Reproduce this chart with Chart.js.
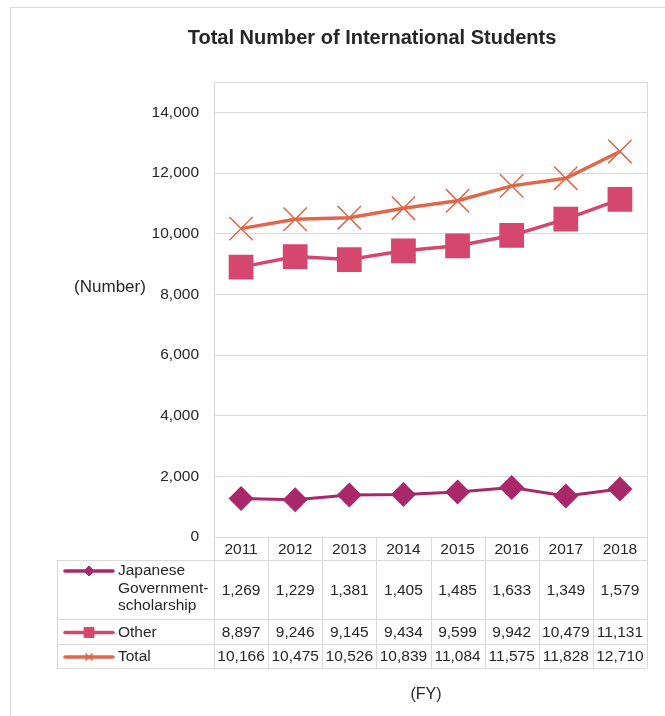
<!DOCTYPE html>
<html>
<head>
<meta charset="utf-8">
<script src="https://cdn.jsdelivr.net/npm/chart.js@4.4.1/dist/chart.umd.min.js"></script>
<style>
  html, body { margin: 0; padding: 0; background: #fff; }
  canvas { display: block; }
</style>
</head>
<body>
<canvas id="studentsChart" width="665" height="716"></canvas>
<script>
const YEARS = ['2011', '2012', '2013', '2014', '2015', '2016', '2017', '2018'];
const JGS_VALUES = [1269, 1229, 1381, 1405, 1485, 1633, 1349, 1579];
const OTHER_VALUES = [8897, 9246, 9145, 9434, 9599, 9942, 10479, 11131];
const TOTAL_VALUES = [10166, 10475, 10526, 10839, 11084, 11575, 11828, 12710];
const Y_TICKS = [0, 2000, 4000, 6000, 8000, 10000, 12000, 14000];
const SERIES_LABELS = [['Japanese', 'Government-', 'scholarship'], ['Other'], ['Total']];

const COLORS = {
    jgs:   '#A8286A',
    other: '#D6476F',
    total: '#E0674A',
    grid:  '#D9D9D9',
    text:  '#262626'
};
const FONT = '"Liberation Sans", Arial, sans-serif';

const fmt = v => v.toLocaleString('en-US');

// Frame, title, axis label and the data table under the plot
const decorPlugin = {
    id: 'decor',
    beforeDraw(chart) {
        const { ctx } = chart;
        ctx.save();
        ctx.strokeStyle = COLORS.grid;
        ctx.lineWidth = 1;
        ctx.beginPath();
        ctx.moveTo(10.5, 716);
        ctx.lineTo(10.5, 7.5);
        ctx.lineTo(665, 7.5);
        ctx.stroke();
        ctx.restore();
    },
    beforeDatasetsDraw(chart) {
        const { ctx, chartArea: a } = chart;
        ctx.save();
        ctx.strokeStyle = COLORS.grid;
        ctx.lineWidth = 1;
        ctx.strokeRect(Math.round(a.left) + 0.5, Math.round(a.top) + 0.5,
                       Math.round(a.right - a.left), Math.round(a.bottom - a.top));
        ctx.restore();
    },
    afterDraw(chart) {
        const { ctx, chartArea: a, scales: { x } } = chart;
        ctx.save();
        ctx.fillStyle = COLORS.text;

        ctx.font = `bold 20px ${FONT}`;
        ctx.textAlign = 'center';
        ctx.textBaseline = 'middle';
        ctx.fillText('Total Number of International Students', 372, 38);

        ctx.font = `17px ${FONT}`;
        ctx.fillText('(Number)', 110, 287);
        ctx.font = `16px ${FONT}`;
        ctx.fillText('(FY)', 426, 695);

        // table
        const colW = (a.right - a.left) / YEARS.length;
        const rows = [a.bottom, 560, 619, 644, 668];
        const tableLeft = 57;
        ctx.strokeStyle = COLORS.grid;
        ctx.lineWidth = 1;
        ctx.beginPath();
        for (let i = 0; i <= YEARS.length; i++) {
            const cx = Math.round(a.left + i * colW) + 0.5;
            ctx.moveTo(cx, a.bottom);
            ctx.lineTo(cx, rows[4]);
        }
        ctx.moveTo(tableLeft + 0.5, rows[1]);
        ctx.lineTo(tableLeft + 0.5, rows[4]);
        for (let r = 1; r < rows.length; r++) {
            ctx.moveTo(tableLeft, rows[r] + 0.5);
            ctx.lineTo(a.right, rows[r] + 0.5);
        }
        ctx.stroke();

        ctx.font = `15.5px ${FONT}`;
        ctx.fillStyle = COLORS.text;
        YEARS.forEach((y, i) => {
            ctx.fillText(y, x.getPixelForValue(i), (rows[0] + rows[1]) / 2 + 1);
        });

        chart.data.datasets.forEach((ds, d) => {
            const cy = (rows[d + 1] + rows[d + 2]) / 2 + 1;
            ctx.fillStyle = COLORS.text;
            ctx.textAlign = 'center';
            ds.data.forEach((v, i) => {
                ctx.fillText(fmt(v), x.getPixelForValue(i), cy);
            });
            // legend key
            const ly = d === 0 ? 571 : cy;
            ctx.strokeStyle = ds.borderColor;
            ctx.lineWidth = 3.5;
            ctx.lineCap = 'round';
            ctx.beginPath();
            ctx.moveTo(65, ly);
            ctx.lineTo(113, ly);
            ctx.stroke();
            ctx.lineCap = 'butt';
            ctx.fillStyle = ds.backgroundColor;
            ctx.lineWidth = ds.pointStyle === 'crossRot' ? 1.5 : 1;
            Chart.helpers.drawPoint(ctx, {
                pointStyle: ds.pointStyle,
                radius: ds.pointStyle === 'rect' ? 7 : 5,
                borderWidth: ctx.lineWidth,
                rotation: 0
            }, 89, ly);
            ctx.textAlign = 'left';
            ctx.fillStyle = COLORS.text;
            SERIES_LABELS[d].forEach((t, k) => {
                ctx.fillText(t, 118, ly + k * 17.5);
            });
        });
        ctx.restore();
    }
};

new Chart(document.getElementById('studentsChart'), {
    type: 'line',
    data: {
        labels: YEARS,
        datasets: [
            {
                label: 'Japanese Government-scholarship',
                data: JGS_VALUES,
                borderColor: COLORS.jgs,
                backgroundColor: COLORS.jgs,
                borderWidth: 3,
                pointStyle: 'rectRot',
                pointRadius: 12.5,
                pointBorderWidth: 0
            },
            {
                label: 'Other',
                data: OTHER_VALUES,
                borderColor: COLORS.other,
                backgroundColor: COLORS.other,
                borderWidth: 3.5,
                pointStyle: 'rect',
                pointRadius: 17.5,
                pointBorderWidth: 0
            },
            {
                label: 'Total',
                data: TOTAL_VALUES,
                borderColor: COLORS.total,
                backgroundColor: COLORS.total,
                borderWidth: 3.5,
                pointStyle: 'crossRot',
                pointRadius: 16.5,
                pointBorderWidth: 1.5
            }
        ]
    },
    options: {
        responsive: false,
        animation: false,
        devicePixelRatio: 1,
        layout: { padding: { top: 82, bottom: 179, right: 16, left: 0 } },
        plugins: {
            legend: { display: false },
            title: { display: false },
            tooltip: { enabled: false }
        },
        elements: { line: { tension: 0 } },
        scales: {
            x: {
                display: false,
                offset: true
            },
            y: {
                min: 0,
                max: 15000,
                afterBuildTicks(scale) {
                    scale.ticks = Y_TICKS.map(v => ({ value: v }));
                },
                afterFit(scale) { scale.width = 214; },
                border: { display: false },
                grid: { color: COLORS.grid, drawTicks: false, lineWidth: 1 },
                ticks: {
                    padding: 15,
                    color: COLORS.text,
                    font: { family: FONT, size: 15.5 },
                    callback: v => fmt(v)
                }
            }
        }
    },
    plugins: [decorPlugin]
});
</script>
</body>
</html>
